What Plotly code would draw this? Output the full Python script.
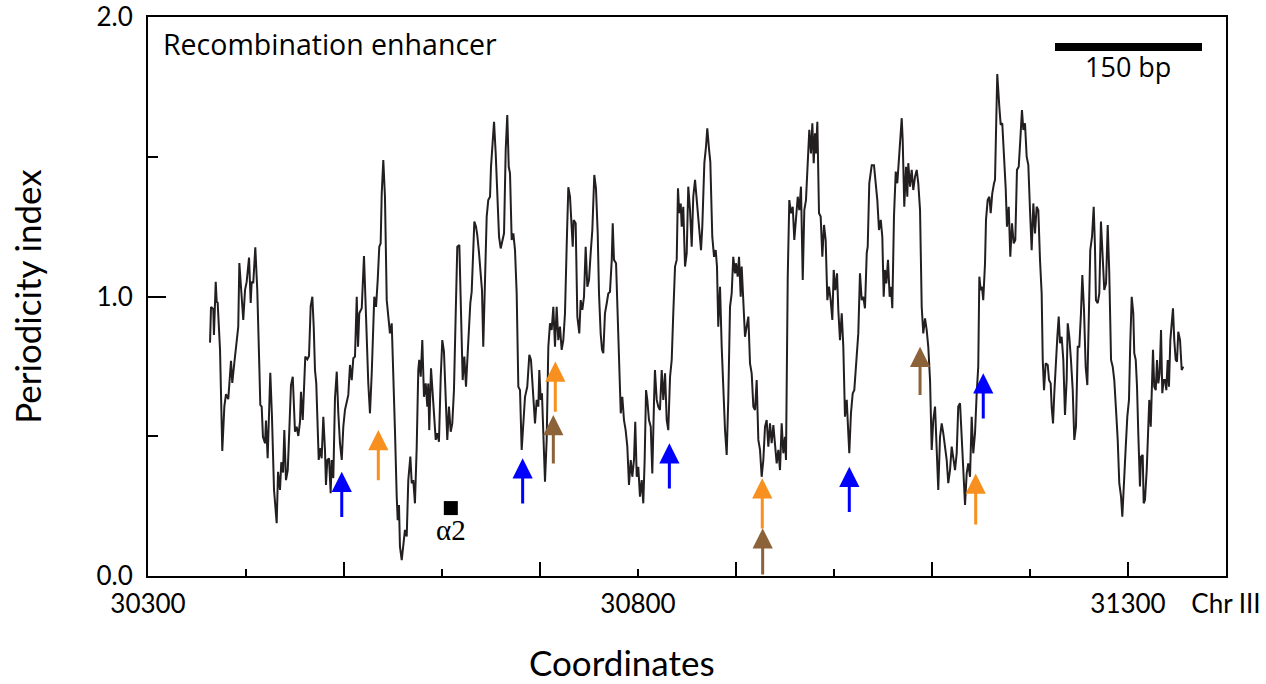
import plotly.graph_objects as go

# ---------------- data ----------------
coord = [
30363.3,30364.3,30366.6,30367.3,30369.1,30370.1,30371.1,30373.5,30375.8,30377.9,
30379.6,30381.9,30384.7,30386.0,30388.1,30390.5,30392.1,30393.2,30395.2,30397.2,
30399.0,30400.7,30403.1,30404.8,30405.8,30407.4,30409.5,30411.5,30413.6,30414.6,
30416.0,30417.3,30419.4,30420.4,30422.1,30423.5,30424.8,30426.5,30428.6,30431.3,
30432.7,30434.7,30436.0,30437.8,30439.1,30440.8,30442.6,30444.2,30445.9,30447.7,
30450.0,30451.7,30453.4,30455.1,30456.1,30457.9,30460.5,30462.6,30464.3,30466.0,
30467.7,30469.1,30470.4,30471.7,30473.2,30474.2,30475.5,30477.2,30478.9,30480.6,
30481.6,30483.0,30484.7,30486.4,30487.4,30489.1,30490.8,30492.6,30494.2,30495.9,
30497.7,30499.3,30501.0,30502.8,30504.4,30506.1,30507.9,30509.5,30511.2,30513.0,
30514.3,30515.6,30518.1,30520.4,30523.0,30524.8,30526.5,30528.3,30530.9,30532.7,
30534.4,30536.0,30537.4,30538.5,30540.1,30541.8,30543.6,30545.2,30546.9,30548.7,
30550.3,30552.0,30553.8,30554.8,30556.1,30557.1,30558.9,30560.5,30562.2,30564.0,
30565.6,30567.7,30569.1,30570.7,30572.4,30574.2,30575.8,30576.8,30578.3,30579.9,
30581.6,30583.4,30585.0,30586.0,30587.0,30588.8,30590.5,30592.1,30593.6,30595.2,
30596.9,30598.7,30600.3,30602.0,30603.8,30605.4,30607.1,30608.9,30610.5,30612.2,
30614.0,30615.6,30617.7,30619.4,30621.1,30622.8,30624.5,30626.2,30627.6,30628.9,
30630.3,30631.6,30633.0,30634.7,30636.0,30637.8,30639.5,30640.8,30642.1,30643.9,
30645.6,30647.2,30649.0,30650.0,30651.7,30653.1,30654.8,30656.4,30658.2,30659.9,
30661.5,30663.3,30665.0,30666.6,30668.1,30669.4,30671.1,30672.8,30674.5,30676.2,
30677.9,30679.6,30681.3,30683.0,30684.7,30687.0,30689.1,30690.8,30693.2,30694.9,
30696.6,30698.3,30699.3,30700.7,30702.0,30703.4,30705.1,30706.8,30708.5,30710.2,
30711.9,30713.6,30715.3,30717.0,30718.7,30720.4,30722.1,30723.8,30725.5,30727.2,
30728.9,30730.6,30732.3,30733.4,30734.4,30736.4,30738.1,30740.1,30741.5,30743.2,
30744.9,30746.6,30748.3,30750.0,30751.7,30753.4,30755.4,30757.1,30758.9,30760.2,
30761.9,30763.3,30764.6,30766.3,30768.1,30769.7,30771.4,30773.2,30774.2,30775.5,
30777.6,30779.3,30780.9,30782.4,30784.0,30785.7,30787.4,30789.1,30790.8,30792.6,
30794.2,30795.9,30797.2,30798.7,30800.3,30802.0,30803.8,30805.4,30806.8,30808.2,
30809.5,30811.2,30813.0,30814.6,30816.3,30817.3,30819.1,30820.7,30822.4,30824.2,
30825.8,30827.6,30829.3,30830.9,30832.7,30834.4,30836.0,30837.8,30839.5,30840.8,
30842.1,30843.6,30844.6,30846.2,30848.0,30849.7,30851.3,30853.1,30854.8,30856.4,
30858.2,30859.9,30861.5,30863.3,30864.3,30865.6,30867.7,30869.4,30870.7,30872.4,
30873.8,30875.8,30877.6,30879.3,30880.6,30881.9,30883.7,30885.4,30887.0,30888.8,
30890.5,30892.1,30893.9,30895.6,30897.2,30899.0,30900.0,30901.7,30903.1,30904.8,
30905.8,30907.4,30909.2,30910.9,30912.6,30914.3,30916.0,30917.7,30919.4,30921.1,
30922.8,30924.5,30926.2,30927.9,30929.6,30931.3,30933.0,30934.7,30936.4,30938.1,
30939.8,30941.5,30943.2,30944.9,30946.6,30948.3,30950.0,30951.0,30952.8,30954.4,
30956.1,30957.9,30959.5,30961.2,30963.0,30964.6,30966.3,30968.1,30969.7,30971.4,
30973.2,30974.8,30976.5,30977.9,30979.3,30980.6,30981.6,30983.0,30984.7,30986.4,
30988.1,30989.8,30991.5,30993.2,30994.9,30996.6,30998.3,30999.7,31001.3,31003.1,
31004.4,31006.1,31007.9,31009.5,31011.2,31013.0,31014.6,31015.6,31017.3,31019.1,
31020.7,31023.2,31024.8,31026.5,31028.3,31029.9,31031.6,31033.4,31034.4,31036.0,
31038.5,31040.8,31042.6,31044.2,31045.9,31047.7,31049.3,31050.7,31052.0,31053.4,
31055.1,31056.8,31058.2,31059.5,31061.2,31063.0,31064.6,31066.3,31067.7,31069.1,
31070.1,31071.7,31073.5,31074.8,31075.8,31077.6,31079.3,31080.9,31082.7,31084.4,
31086.0,31087.8,31089.5,31091.1,31092.9,31094.6,31096.2,31098.0,31099.7,31101.3,
31103.1,31104.8,31106.4,31108.2,31109.9,31111.5,31113.3,31115.0,31116.6,31118.4,
31120.1,31121.7,31123.5,31125.2,31126.8,31128.6,31130.3,31131.9,31133.7,31135.4,
31137.0,31138.8,31140.5,31142.1,31143.9,31145.6,31147.2,31148.3,31149.7,31151.0,
31152.3,31154.1,31155.1,31156.8,31158.5,31159.9,31161.5,31163.3,31164.3,31165.3,
31166.6,31168.7,31170.1,31171.7,31173.5,31175.2,31176.5,31178.3,31179.9,31181.6,
31183.4,31185.0,31186.7,31188.5,31190.1,31191.8,31193.2,31194.9,31196.6,31198.3,
31200.0,31201.7,31203.4,31205.1,31206.8,31208.5,31210.2,31211.9,31213.0,31214.3,
31216.0,31218.1,31219.4,31221.1,31222.1,31223.5,31224.8,31226.2,31227.9,31229.3,
31230.6,31232.3,31234.0,31235.7,31237.4,31238.5,31240.1,31241.8,31243.6,31245.2,
31246.9,31248.7,31250.3,31252.0,31253.4,31255.1,31256.8,31258.5,31260.2,31261.5,
31263.3,31265.0,31266.3,31267.3,31269.1,31270.7,31272.4,31274.2,31275.8,31277.6,
31279.3,31280.9,31282.7,31284.4,31286.0,31287.8,31289.5,31291.1,31292.9,31294.2,
31295.9,31297.7,31299.3,31301.0,31302.3,31303.8,31305.4,31306.4,31307.9,31309.2,
31310.5,31312.2,31313.3,31315.0,31316.0,31317.3,31319.1,31320.7,31321.7,31323.2,
31324.2,31325.5,31326.8,31328.3,31329.6,31330.9,31332.3,31333.7,31335.0,31336.4,
31337.8,31339.1,31340.5,31341.8,31343.2,31344.6,31345.9,31347.2,31348.7,31350.0,
31351.3,31353.1,31354.8,31356.4,
]

periodicity = [
0.835,0.962,0.955,0.862,1.053,0.981,0.978,0.809,0.447,0.606,
0.651,0.633,0.770,0.691,0.763,0.844,0.892,1.120,0.999,0.916,
1.023,1.053,1.139,0.977,1.053,1.048,1.176,1.023,0.749,0.612,
0.606,0.498,0.475,0.556,0.421,0.582,0.727,0.570,0.308,0.189,
0.373,0.308,0.407,0.370,0.522,0.343,0.379,0.522,0.683,0.713,
0.516,0.534,0.501,0.552,0.659,0.558,0.785,0.775,0.787,0.966,
0.999,0.892,0.737,0.689,0.487,0.415,0.457,0.421,0.570,0.451,
0.326,0.415,0.421,0.296,0.415,0.350,0.636,0.731,0.582,0.475,
0.415,0.534,0.594,0.618,0.648,0.755,0.701,0.779,0.785,0.999,
0.820,0.940,0.958,1.145,0.844,0.689,0.582,0.725,0.999,0.963,
1.059,1.178,1.190,1.369,1.488,1.357,0.987,0.940,0.868,0.904,
0.749,0.522,0.284,0.200,0.254,0.105,0.057,0.117,0.165,0.141,
0.343,0.427,0.332,0.343,0.260,0.463,0.737,0.773,0.713,0.844,
0.641,0.689,0.606,0.689,0.522,0.743,0.654,0.594,0.487,0.511,
0.480,0.713,0.844,0.803,0.654,0.487,0.606,0.516,0.546,0.665,
0.940,1.178,1.184,0.963,0.701,0.785,0.677,0.797,0.904,0.976,
1.017,1.178,1.268,1.250,1.220,1.155,1.059,1.023,0.820,1.083,
1.286,1.345,1.357,1.464,1.560,1.625,1.512,1.345,1.214,1.172,
1.202,1.226,1.524,1.649,1.464,1.441,1.202,1.226,1.166,1.011,
0.677,0.665,0.451,0.558,0.641,0.677,0.791,0.773,0.624,0.546,
0.630,0.606,0.737,0.630,0.654,0.487,0.337,0.487,0.820,0.904,
0.880,0.963,0.820,0.963,0.844,0.892,0.809,0.844,0.940,1.178,
1.391,1.357,1.214,1.178,1.274,1.262,0.928,0.868,0.987,0.952,
0.999,1.178,1.035,1.059,1.155,1.238,1.435,1.387,1.226,1.011,
0.868,0.809,0.797,0.940,0.976,1.011,1.017,1.131,1.262,1.131,
1.119,0.928,0.665,0.582,0.641,0.558,0.522,0.463,0.326,0.415,
0.355,0.415,0.552,0.355,0.391,0.284,0.343,0.260,0.415,0.665,
0.630,0.558,0.534,0.367,0.618,0.737,0.630,0.606,0.594,0.737,
0.630,0.725,0.558,0.522,0.713,0.773,0.940,1.107,1.131,1.387,
1.298,1.333,1.250,1.321,1.107,1.155,1.393,1.309,1.178,1.357,
1.417,1.345,1.309,1.214,1.166,1.250,1.477,1.536,1.602,1.530,
1.482,1.214,1.142,1.166,1.107,0.892,1.035,0.820,0.654,0.522,
0.433,0.630,0.963,1.011,1.142,1.083,1.119,1.071,1.142,0.999,
1.107,0.963,0.856,0.892,0.928,0.761,0.725,0.606,0.594,0.701,
0.487,0.451,0.355,0.415,0.534,0.558,0.463,0.546,0.475,0.540,
0.463,0.403,0.451,0.379,0.546,0.439,0.498,0.415,1.071,1.345,
1.298,1.321,1.202,1.298,1.357,1.309,1.393,1.059,1.309,1.345,
1.488,1.596,1.512,1.620,1.477,1.584,1.512,1.625,1.298,1.286,
1.142,1.256,1.202,0.987,1.035,0.987,0.916,1.095,1.023,1.083,
0.952,0.844,0.940,0.820,0.570,0.630,0.511,0.439,0.582,0.654,
0.665,0.797,0.868,1.083,0.987,0.999,0.958,1.155,1.178,1.405,
1.470,1.470,1.405,1.345,1.238,1.274,1.214,0.999,1.095,1.047,
1.131,0.999,1.035,0.958,1.286,1.447,1.405,1.506,1.560,1.638,
1.560,1.321,1.464,1.357,1.477,1.393,1.453,1.381,1.429,1.453,
1.405,1.309,0.963,0.868,0.922,0.880,0.820,0.701,0.451,0.558,
0.606,0.463,0.308,0.498,0.546,0.511,0.463,0.415,0.332,0.379,
0.463,0.415,0.379,0.439,0.606,0.618,0.487,0.391,0.254,0.367,
0.403,0.355,0.570,0.439,0.511,0.654,0.749,1.071,1.023,1.035,
0.987,1.119,1.274,1.345,1.357,1.298,1.369,1.405,1.417,1.584,
1.796,1.679,1.614,1.620,1.512,1.387,1.250,1.321,1.142,1.262,
1.190,1.202,1.453,1.464,1.560,1.667,1.596,1.620,1.500,1.470,
1.309,1.166,1.333,1.226,1.321,1.309,1.131,1.011,0.773,0.665,
0.761,0.755,0.701,0.689,0.606,0.546,0.654,0.773,0.856,0.928,
0.833,0.856,0.773,0.576,0.701,0.904,0.856,0.773,0.665,0.487,
0.534,0.820,0.820,0.940,1.077,0.952,0.749,0.683,0.987,1.166,
1.214,1.321,1.178,0.987,0.976,1.011,1.268,1.155,1.023,1.047,
1.256,1.083,0.773,0.749,0.701,0.594,0.487,0.332,0.284,0.212,
0.355,0.463,0.570,0.630,0.833,0.999,0.940,0.797,0.773,0.677,
0.511,0.320,0.427,0.433,0.260,0.272,0.379,0.534,0.630,0.534,
0.689,0.809,0.677,0.665,0.773,0.689,0.725,0.880,0.654,0.701,
0.701,0.665,0.773,0.677,0.844,0.892,0.958,0.844,0.773,0.767,
0.874,0.844,0.737,0.749,
]

# axis ticks / labels
x_label_vals = [30300, 30800, 31300, 31400]
x_label_text = ["30300", "30800", "31300", "Chr III"]
x_major_ticks = [30500, 30700, 30900, 31100, 31300]
x_minor_ticks = [30400, 30600, 30800, 31000, 31200]
y_tick_vals = [0.0, 1.0, 2.0]
y_tick_text = ["0.0", "1.0", "2.0"]
y_minor_ticks = [0.5, 1.5]

# arrows: position, tip value, tail value
blue_x = [30497.7, 30682.3, 30832.0, 31015.6, 31152.3]
blue_tip = [0.373, 0.421, 0.475, 0.391, 0.725]
blue_tail = [0.206, 0.254, 0.308, 0.224, 0.558]

orange_x = [30535.0, 30715.6, 30926.8, 31144.6]
orange_tip = [0.522, 0.767, 0.350, 0.367]
orange_tail = [0.337, 0.582, 0.165, 0.179]

brown_x = [30713.6, 30927.2, 31087.8]
brown_tip = [0.576, 0.171, 0.820]
brown_tail = [0.397, 0.0, 0.642]

# alpha2 site marker
alpha2_x = [30609.0]
alpha2_y = [0.243]

# scale bar
scale_start = 31225.5
scale_len_bp = 150
scale_y = 1.893

# ---------------- figure ----------------
FONT = "Lato"
TEXT_FONT = "Open Sans"
LINE_COLOR = "#231F20"

fig = go.Figure()
fig.add_trace(go.Scatter(
    x=coord, y=periodicity, mode="lines",
    line=dict(color=LINE_COLOR, width=2),
    hoverinfo="skip", showlegend=False,
))
fig.add_trace(go.Scatter(
    x=alpha2_x, y=alpha2_y, mode="markers",
    marker=dict(symbol="square", size=14, color="black"),
    xaxis="x2", showlegend=False, hoverinfo="skip",
))

annotations = []

def add_arrows(xs, tips, tails, color):
    for x, t, b in zip(xs, tips, tails):
        annotations.append(dict(
            x=x, y=t, ax=x, ay=b, xref="x", yref="y", axref="x", ayref="y",
            showarrow=True, arrowhead=2, arrowsize=1.35, arrowwidth=3,
            arrowcolor=color, text="", standoff=0, startstandoff=0,
        ))

add_arrows(orange_x, orange_tip, orange_tail, "#F7901E")
add_arrows(brown_x, brown_tip, brown_tail, "#8C6239")
add_arrows(blue_x, blue_tip, blue_tail, "#0000FF")

annotations.append(dict(
    x=alpha2_x[0], y=alpha2_y[0], xref="x", yref="y", text="α2",
    showarrow=False, yanchor="top", yshift=-4,
    font=dict(family="Liberation Serif, DejaVu Serif, serif", size=29, color="black"),
))
annotations.append(dict(
    x=0.012, y=0.952, xref="paper", yref="paper", text="Recombination enhancer",
    showarrow=False, xanchor="left", yanchor="middle",
    font=dict(family=TEXT_FONT, size=28.5, color="black"),
))
annotations.append(dict(
    x=scale_start + scale_len_bp / 2, y=scale_y, xref="x", yref="y",
    text=f"{scale_len_bp} bp", showarrow=False, yanchor="top", yshift=1,
    font=dict(family=TEXT_FONT, size=27, color="black"),
))
annotations.append(dict(
    x=0.44, y=-0.154, xref="paper", yref="paper", text="Coordinates",
    showarrow=False, xanchor="center", yanchor="middle",
    font=dict(family=FONT, size=35, color="black"),
))

fig.add_shape(type="line", x0=scale_start, x1=scale_start + scale_len_bp,
              y0=scale_y, y1=scale_y, xref="x", yref="y",
              line=dict(color="black", width=8))

fig.update_layout(
    width=1266, height=684,
    margin=dict(l=148, r=40, t=17, b=108, autoexpand=False),
    paper_bgcolor="white", plot_bgcolor="white",
    annotations=annotations,
    xaxis=dict(
        range=[30300, 31400], showgrid=False, zeroline=False, automargin=False,
        showline=True, linecolor="black", linewidth=2, mirror=True,
        tickmode="array", tickvals=x_major_ticks, ticks="inside",
        ticklen=14, tickwidth=1.5, tickcolor="black", showticklabels=False,
        minor=dict(tickmode="array", tickvals=x_minor_ticks, ticks="inside",
                   ticklen=7, tickwidth=1.5, tickcolor="black", showgrid=False),
    ),
    xaxis2=dict(
        overlaying="x", anchor="y", side="bottom", automargin=False,
        range=[30300, 31400], showgrid=False, zeroline=False, showline=False,
        tickmode="array", tickvals=x_label_vals, ticktext=x_label_text,
        ticks="", ticklabelstandoff=10,
        tickfont=dict(family=FONT, size=26, color="black"),
    ),
    yaxis=dict(
        range=[0, 2], showgrid=False, zeroline=False, automargin=False,
        showline=True, linecolor="black", linewidth=2, mirror=True,
        tickmode="array", tickvals=y_tick_vals, ticktext=y_tick_text,
        ticks="inside", ticklen=18, tickwidth=1.5, tickcolor="black",
        ticklabelstandoff=8,
        tickfont=dict(family=FONT, size=26, color="black"),
        minor=dict(tickmode="array", tickvals=y_minor_ticks, ticks="inside",
                   ticklen=10, tickwidth=1.5, tickcolor="black", showgrid=False),
        title=dict(text="Periodicity index", standoff=44,
                   font=dict(family=FONT, size=35, color="black")),
    ),
)

fig.write_html("out.html")
